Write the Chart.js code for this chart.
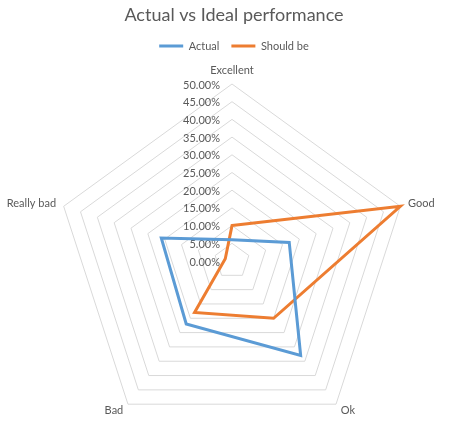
<!DOCTYPE html>
<html>
<head>
<meta charset="utf-8">
<script src="https://cdn.jsdelivr.net/npm/chart.js@4.4.1/dist/chart.umd.min.js"></script>
<style>
  html, body { margin: 0; padding: 0; background: #fff; overflow: hidden; }
  #chart { display: block; }
</style>
</head>
<body>
<canvas id="chart" width="449" height="434"></canvas>
<script>
const categories = ["Excellent", "Good", "Ok", "Bad", "Really bad"];
const actual = [6, 17, 33, 22, 21];
const shouldBe = [10, 50, 20, 18, 2];
const tickMin = 0;
const tickMax = 50;
const tickStep = 5;

const textColor = "#595959";
const gridColor = "#D9D9D9";
const fontFamily = "Lato, 'Open Sans', sans-serif";

// put the radar where the reference has it (centre and outer radius)
const placeRadar = {
  id: "placeRadar",
  afterLayout(chart) {
    const r = chart.scales.r;
    r.xCenter = 232;
    r.yCenter = 261;
    r.drawingArea = 177;
  }
};

// tick labels sit left of the vertical axis, point labels just outside the web
const radarText = {
  id: "radarText",
  beforeDatasetsDraw(chart) {
    const r = chart.scales.r;
    const ctx = chart.ctx;
    ctx.save();
    ctx.fillStyle = textColor;
    ctx.font = "11px " + fontFamily;

    ctx.textAlign = "right";
    ctx.textBaseline = "middle";
    r.ticks.forEach(t => {
      const d = r.getDistanceFromCenterForValue(t.value);
      ctx.fillText(t.value.toFixed(2) + "%", r.xCenter - 12, r.yCenter - d + 1);
    });

    categories.forEach((label, i) => {
      const p = r.getPointPosition(i, r.drawingArea + 8);
      const dx = p.x - r.xCenter;
      ctx.textAlign = Math.abs(dx) < 2 ? "center" : (dx > 0 ? "left" : "right");
      ctx.textBaseline = Math.abs(dx) < 2 ? "bottom" : "middle";
      ctx.fillText(label, p.x, p.y);
    });
    ctx.restore();
  }
};

new Chart(document.getElementById("chart"), {
  type: "radar",
  data: {
    labels: categories,
    datasets: [
      {
        label: "Actual",
        data: actual,
        borderColor: "#5B9BD5",
        backgroundColor: "#5B9BD5",
        borderWidth: 3,
        fill: false,
        pointRadius: 0
      },
      {
        label: "Should be",
        data: shouldBe,
        borderColor: "#ED7D31",
        backgroundColor: "#ED7D31",
        borderWidth: 3,
        fill: false,
        pointRadius: 0
      }
    ]
  },
  options: {
    responsive: false,
    animation: false,
    devicePixelRatio: 1,
    layout: { padding: { left: 19 } },
    plugins: {
      title: {
        display: true,
        text: "Actual vs Ideal performance",
        color: textColor,
        font: { family: fontFamily, size: 18, weight: "normal" },
        padding: { top: 4, bottom: 3 }
      },
      legend: {
        labels: {
          color: textColor,
          font: { family: fontFamily, size: 11 },
          usePointStyle: true,
          pointStyle: "line",
          pointStyleWidth: 24,
          padding: 12
        }
      },
      tooltip: { enabled: false }
    },
    scales: {
      r: {
        min: tickMin,
        max: tickMax,
        ticks: { stepSize: tickStep, display: false },
        pointLabels: { display: false },
        grid: { color: gridColor, lineWidth: 1 },
        angleLines: { display: false }
      }
    }
  },
  plugins: [placeRadar, radarText]
});
</script>
</body>
</html>
